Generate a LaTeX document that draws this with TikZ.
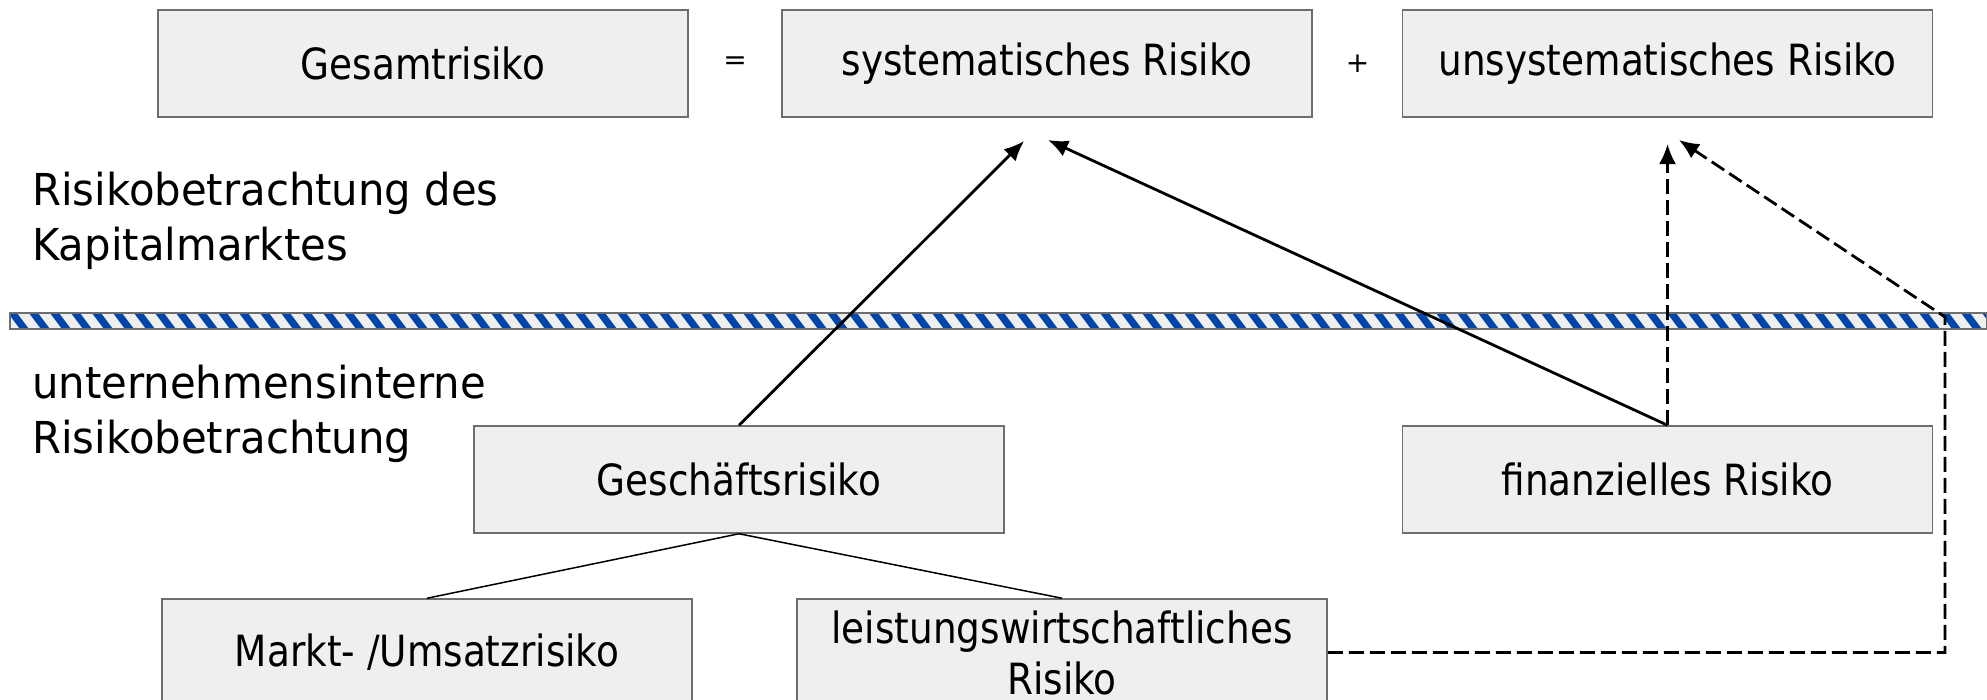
\documentclass[tikz,border=0pt]{standalone}
\usepackage{fontspec}
\setmainfont{DejaVu Sans}
\newfontfamily\boxfont[FakeStretch=0.87]{DejaVu Sans}
\newfontfamily\sidefont[FakeStretch=0.95]{DejaVu Sans}
\usetikzlibrary{arrows.meta}
\definecolor{boxfill}{RGB}{239, 239, 239}
\definecolor{boxline}{RGB}{110, 110, 110}
\definecolor{barblue}{RGB}{0, 70, 170}

\begin{document}
\begin{tikzpicture}[x=1pt, y=-1pt,
    riskbox/.style={draw=boxline, fill=boxfill, line width=1.5pt, minimum width=530pt,
        minimum height=107pt, inner sep=0pt, align=center, font=\boxfont\fontsize{43}{51}\selectfont},
    sidetext/.style={anchor=west, align=left, inner sep=0pt, font=\sidefont\fontsize{44}{54.5}\selectfont},
    opsign/.style={inner sep=0pt, font=\fontsize{28}{32}\selectfont},
    riskarrow/.style={line width=2.8pt, -{Latex[length=20pt, width=17pt]}},
    riskdash/.style={riskarrow, dash pattern=on 15pt off 6pt}]
\useasboundingbox (0,0) rectangle (1987,699);
% separator bar
\fill[boxfill] (10,313) rectangle (1987,329);
\begin{scope}
\clip (10,313) rectangle (1987,329);
\foreach \i in {0,...,95} {
    \fill[barblue] ({8+\i*21},313) -- ++(9,0) -- ++(12,16) -- ++(-9,0) -- cycle;
}
\end{scope}
\draw[boxline, line width=1.5pt] (10,313) rectangle (1987,329);
% top row
\node[riskbox] (gesamt) at (423,63.5) {Gesamtrisiko};
\node[opsign] (eq) at (735,63.5) {=};
\node[riskbox] (syst) at (1047,63.5) {systematisches Risiko};
\node[opsign] (plus) at (1357.5,63.5) {+};
\node[riskbox] (unsyst) at (1667.5,63.5) {unsystematisches Risiko};
% side labels
\node[sidetext] (kapital) at (32,221) {Risikobetrachtung des\\Kapitalmarktes};
\node[sidetext] (intern) at (32,414) {unternehmensinterne\\Risikobetrachtung};
% lower rows
\node[riskbox] (geschaeft) at (739,479.5) {Geschäftsrisiko};
\node[riskbox] (finanz) at (1667.5,479.5) {finanzielles Risiko};
\node[riskbox] (markt) at (427,652.5) {Markt- /Umsatzrisiko};
\node[riskbox] (leist) at (1062,652.5) {leistungswirtschaftliches\\Risiko};
% arrow ends
\coordinate (systa) at (1024,141);
\coordinate (systb) at (1048,140);
\coordinate (unsysta) at (1667.5,144);
\coordinate (unsystb) at (1679,140);
\coordinate (barpt) at (1945,317);
% tree
\draw[line width=1.5pt] (geschaeft.south) -- (markt.north);
\draw[line width=1.5pt] (geschaeft.south) -- (leist.north);
% systematic
\draw[riskarrow] (geschaeft.north) -- (systa);
\draw[riskarrow] (finanz.north) -- (systb);
% unsystematic
\draw[riskdash] (finanz.north) -- (unsysta);
\draw[riskdash] (leist.east) -- (leist.east -| barpt) -- (barpt) -- (unsystb);
\end{tikzpicture}
\end{document}
